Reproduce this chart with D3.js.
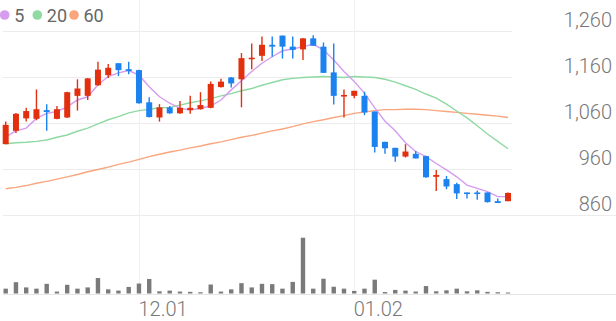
<!DOCTYPE html>
<html>
<head>
<meta charset="utf-8">
<script src="https://cdn.jsdelivr.net/npm/d3@7"></script>
<style>
  html, body { margin: 0; padding: 0; background: #fff; }
  svg { display: block; font-family: Roboto, 'Noto Sans', sans-serif; }
</style>
</head>
<body>
<div id="chart"></div>
<script>
// daily candles, oldest first
const opens  = [1014,1043,1070,1069,1088,1069,1072,1119,1119,1142,1164,1190,1177,1175,1105,1072,1094,1081,1088,1090,1093,1138,1159,1155,1199,1206,1230,1250,1226,1220,1244,1226,1170,1119,1119,1119,1085,1019,1006,987,993,988,943,938,927,909,909,909,890,890];
const highs  = [1063,1082,1093,1133,1101,1097,1128,1155,1158,1193,1188,1190,1193,1176,1116,1101,1097,1108,1119,1127,1150,1156,1160,1212,1233,1248,1248,1250,1248,1244,1251,1235,1233,1133,1130,1128,1085,1019,1006,1014,999,989,958,945,930,909,913,909,896,909];
const lows   = [1014,1038,1063,1066,1043,1068,1071,1087,1110,1141,1158,1162,1166,1102,1072,1063,1080,1080,1080,1089,1092,1137,1137,1094,1177,1195,1204,1200,1200,1197,1228,1169,1100,1072,1114,1077,996,993,976,985,983,941,912,916,895,896,893,887,886,890];
const closes = [1056,1080,1086,1090,1084,1090,1127,1135,1157,1176,1180,1175,1173,1103,1073,1094,1081,1093,1093,1099,1145,1150,1146,1201,1202,1230,1226,1226,1219,1244,1228,1169,1119,1121,1130,1083,1008,1005,987,998,983,942,947,922,907,906,906,888,886,908];
const volumes = [50,117,63,50,100,20,90,50,63,160,43,30,68,103,150,23,30,20,17,13,93,20,43,107,63,100,97,50,120,577,50,153,70,50,27,50,143,15,37,30,20,77,23,33,50,23,33,17,13,10];

// moving averages as drawn
const ma5  = [1030,1043,1049,1070,1081,1085,1095,1110,1117,1143,1161,1169,1174,1164,1139,1117,1103,1092,1088,1092,1097,1110,1132,1152,1172,1190,1204,1217,1221,1226,1231,1219,1197,1172,1150,1125,1093,1064,1043,1017,998,987,972,958,943,925,918,911,900,900];
const ma20 = [1015,1017,1018,1020,1023,1029,1034,1042,1049,1058,1067,1074,1082,1087,1090,1093,1094,1099,1104,1108,1113,1119,1124,1130,1135,1142,1148,1154,1157,1159,1160,1161,1160,1159,1161,1160,1159,1155,1149,1141,1133,1123,1114,1101,1086,1071,1054,1036,1020,1004];
const ma60 = [917,920,924,929,933,938,943,948,954,959,964,970,975,981,987,992,997,1001,1006,1010,1015,1019,1024,1029,1033,1038,1043,1047,1052,1058,1063,1067,1072,1076,1081,1084,1087,1089,1089,1090,1090,1089,1087,1085,1083,1081,1079,1077,1075,1072];

const priceTicks = [860, 960, 1060, 1160, 1260];
const xTickIdx = [13, 34];
const xTickLabels = ['12.01', '01.02'];
const maNames = ['5', '20', '60'];
const maColors = ['#d59cf0', '#8fd9a3', '#f9a67f'];

const width = 616, height = 321;
const upColor = '#e2300f', downColor = '#1b82ef';

const svg = d3.select('#chart').append('svg').attr('width', width).attr('height', height);

const x = d3.scaleLinear().domain([0, closes.length - 1]).range([5.7, 508]);
const y = d3.scaleLinear().domain([860, 1260]).range([215, 31]);
const yVol = d3.scaleLinear().domain([0, 600]).range([293.5, 235.5]);

// grid
const grid = svg.append('g').attr('shape-rendering', 'crispEdges');
grid.selectAll('line.h').data(priceTicks).enter().append('line')
    .attr('x1', 3).attr('x2', d => d === priceTicks[0] ? width : 512)
    .attr('y1', d => Math.round(y(d)) + 0.5).attr('y2', d => Math.round(y(d)) + 0.5)
    .attr('stroke', '#ececec');
grid.selectAll('line.v').data(xTickIdx).enter().append('line')
    .attr('x1', d => Math.round(x(d)) + 0.5).attr('x2', d => Math.round(x(d)) + 0.5)
    .attr('y1', 0).attr('y2', 294)
    .attr('stroke', '#f1f1f1');
grid.append('line').attr('x1', 3).attr('x2', width).attr('y1', 294.5).attr('y2', 294.5).attr('stroke', '#e6e6e6');

// price labels on the right
const yAxis = svg.append('g').attr('transform', 'translate(612,0)')
    .call(d3.axisLeft(y).tickValues(priceTicks).tickFormat(d3.format(',')).tickSize(0).tickPadding(0));
yAxis.select('.domain').remove();
yAxis.selectAll('text').attr('dy', null).attr('y', -5)
    .style('font-size', '20px').style('font-weight', 300).attr('fill', '#777')
    .style('font-family', 'Roboto, sans-serif');

// date labels
const xAxis = svg.append('g').attr('transform', 'translate(0,316)')
    .call(d3.axisBottom(x).tickValues(xTickIdx).tickFormat((d, i) => xTickLabels[i]).tickSize(0).tickPadding(0));
xAxis.select('.domain').remove();
xAxis.selectAll('text').attr('dy', null).attr('y', 0).attr('x', -1).attr('text-anchor', 'start')
    .style('font-size', '20px').style('font-weight', 300).attr('fill', '#777')
    .style('font-family', 'Roboto, sans-serif');

// moving average lines
const line = d3.line().x((d, i) => x(i)).y(d => y(d));
[ma60, ma20, ma5].forEach((s, k) => {
    svg.append('path').datum(s).attr('d', line)
        .attr('fill', 'none').attr('stroke', maColors[2 - k]).attr('stroke-width', 1.4);
});

// candles
const idx = d3.range(closes.length);
const candles = svg.append('g').selectAll('g').data(idx).enter().append('g');
candles.append('line')
    .attr('x1', i => x(i)).attr('x2', i => x(i))
    .attr('y1', i => y(highs[i])).attr('y2', i => y(lows[i]))
    .attr('stroke', i => closes[i] >= opens[i] ? upColor : downColor)
    .attr('stroke-width', 1.4);
candles.append('rect')
    .attr('x', i => x(i) - 3).attr('width', 6)
    .attr('y', i => y(Math.max(opens[i], closes[i])))
    .attr('height', i => Math.max(1.6, Math.abs(y(opens[i]) - y(closes[i]))))
    .attr('fill', i => closes[i] >= opens[i] ? upColor : downColor);

// volume
svg.append('g').selectAll('rect').data(volumes).enter().append('rect')
    .attr('x', (d, i) => x(i) - 2.2).attr('width', 4.4)
    .attr('y', d => yVol(d)).attr('height', d => yVol(0) - yVol(d))
    .attr('fill', '#7a7a7a');

// legend
const legendX = [4.7, 37.3, 74];
const legend = svg.append('g').selectAll('g').data(maNames).enter().append('g')
    .attr('transform', (d, i) => 'translate(' + legendX[i] + ',15)');
legend.append('circle').attr('r', 4.8).attr('fill', (d, i) => maColors[i]);
legend.append('text').attr('x', 9.5).attr('y', 6.5).text(d => d)
    .style('font-size', '18px').attr('fill', '#666');
</script>
</body>
</html>
